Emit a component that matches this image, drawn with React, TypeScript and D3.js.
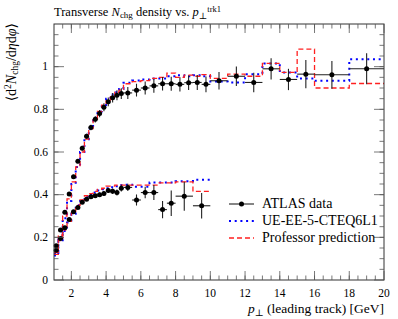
import React from 'react';
import * as d3 from 'd3';

// bin edges of the two distributions (pT > 100 MeV upper, pT > 500 MeV lower)
const upperEdges = [1, 1.25, 1.5, 1.75, 2, 2.25, 2.5, 2.75, 3, 3.25, 3.5, 3.75, 4, 4.25, 4.5, 4.75, 5,
  5.5, 6, 6.5, 7, 7.5, 8, 8.5, 9, 9.5, 10, 11, 12, 13, 14, 15, 16, 18, 20];
const upperData = [0.16, 0.234, 0.317, 0.403, 0.484, 0.557, 0.618, 0.674, 0.715, 0.753, 0.78, 0.81, 0.835, 0.854, 0.866, 0.874,
  0.877, 0.89, 0.9, 0.91, 0.92, 0.92, 0.917, 0.925, 0.926, 0.917, 0.934, 0.955, 0.926, 0.99, 0.94, 0.965, 0.962, 0.99];
const upperErr = [0.005, 0.006, 0.007, 0.008, 0.009, 0.01, 0.011, 0.012, 0.013, 0.015, 0.017, 0.019, 0.021, 0.022, 0.024, 0.025,
  0.028, 0.03, 0.031, 0.032, 0.032, 0.033, 0.033, 0.034, 0.035, 0.037, 0.041, 0.046, 0.046, 0.05, 0.05, 0.066, 0.065, 0.073];
const upperBlue = [0.125, 0.2, 0.29, 0.37, 0.45, 0.53, 0.6, 0.66, 0.71, 0.76, 0.79, 0.82, 0.85, 0.87, 0.88, 0.895,
  0.925, 0.935, 0.94, 0.945, 0.945, 0.955, 0.96, 0.955, 0.96, 0.955, 0.93, 0.926, 0.965, 1.015, 0.973, 0.945, 0.934, 1.035];
const upperRed = [0.13, 0.21, 0.3, 0.38, 0.46, 0.53, 0.6, 0.66, 0.71, 0.75, 0.79, 0.82, 0.84, 0.86, 0.88, 0.89,
  0.92, 0.93, 0.935, 0.945, 0.95, 0.97, 0.95, 0.96, 0.955, 0.963, 0.945, 0.965, 0.955, 1.015, 0.973, 1.082, 0.9, 0.921];

const lowerEdges = [1, 1.25, 1.5, 1.75, 2, 2.25, 2.5, 2.75, 3, 3.25, 3.5, 3.75, 4, 4.25, 4.5, 4.75, 5,
  5.5, 6, 6.5, 7, 7.5, 8, 9, 10];
const lowerData = [0.14, 0.195, 0.245, 0.284, 0.32, 0.34, 0.365, 0.378, 0.39, 0.395, 0.4, 0.405, 0.42, 0.416, 0.41, 0.43,
  0.434, 0.375, 0.41, 0.41, 0.33, 0.36, 0.393, 0.348];
const lowerErr = [0.004, 0.005, 0.005, 0.006, 0.006, 0.007, 0.007, 0.008, 0.008, 0.009, 0.01, 0.011, 0.012, 0.013, 0.014, 0.015,
  0.017, 0.026, 0.027, 0.035, 0.04, 0.06, 0.068, 0.06];
const lowerBlue = [0.115, 0.18, 0.23, 0.27, 0.31, 0.35, 0.37, 0.39, 0.4, 0.41, 0.42, 0.425, 0.43, 0.435, 0.44, 0.445,
  0.447, 0.437, 0.437, 0.457, 0.457, 0.457, 0.463, 0.47];
const lowerRed = [0.12, 0.185, 0.235, 0.275, 0.315, 0.35, 0.375, 0.395, 0.405, 0.415, 0.425, 0.43, 0.44, 0.44, 0.445, 0.445,
  0.445, 0.445, 0.445, 0.445, 0.455, 0.455, 0.46, 0.415];

const xTicks = [2, 4, 6, 8, 10, 12, 14, 16, 18, 20];
const yTicks = [0, 0.2, 0.4, 0.6, 0.8, 1];
const yTickLabels = ['0', '0.2', '0.4', '0.6', '0.8', '1'];

const left = 54, right = 384, top = 24, bottom = 280;
const font = '"Liberation Serif", "DejaVu Serif", serif';

const x = d3.scaleLinear().domain([1, 20]).range([left, right]);
const y = d3.scaleLinear().domain([0, 1.2]).range([bottom, top]);

const stepPath = (edges: number[], vals: number[]) => {
  const pts: [number, number][] = [];
  vals.forEach((v, i) => {
    pts.push([edges[i], v]);
    pts.push([edges[i + 1], v]);
  });
  return d3.line<[number, number]>().x(d => x(d[0])).y(d => y(d[1]))(pts) || '';
};

const DataPoints = ({ edges, vals, errs }: { edges: number[]; vals: number[]; errs: number[] }) => (
  <g>
    {vals.map((v, i) => {
      const cx = x((edges[i] + edges[i + 1]) / 2);
      return (
        <g key={i}>
          <line x1={x(edges[i])} x2={x(edges[i + 1])} y1={y(v)} y2={y(v)} stroke="#222" strokeWidth={1.1} />
          <line x1={cx} x2={cx} y1={y(v - errs[i])} y2={y(v + errs[i])} stroke="#222" strokeWidth={1.1} />
          <circle cx={cx} cy={y(v)} r={2.5} fill="black" />
        </g>
      );
    })}
  </g>
);

const blueStyle = { stroke: '#0000ff', strokeWidth: 2, strokeDasharray: '2 3.7', fill: 'none' };
const redStyle = { stroke: '#ff2020', strokeWidth: 1.3, strokeDasharray: '5 3', fill: 'none' };

export default function App() {
  const xMinor = d3.range(1.5, 20, 0.5);
  const yMinor = d3.range(0.05, 1.2, 0.05);
  return (
    <svg width={398} height={319} style={{ position: 'absolute', left: 0, top: 0 }} fontFamily={font}>
      <rect width={398} height={319} fill="white" />
      {/* title */}
      <text x={54} y={16} fontSize={12.5}>
        Transverse <tspan fontStyle="italic">N</tspan>
        <tspan fontSize={9} dy={2}>chg</tspan>
        <tspan dy={-2}> density vs. </tspan>
        <tspan fontStyle="italic">p</tspan>
        <tspan fontSize={9} dy={2.5}>⊥</tspan>
        <tspan fontSize={8.5} dy={-7}>trk1</tspan>
      </text>

      {/* MC lines */}
      <path d={stepPath(upperEdges, upperBlue)} style={blueStyle} />
      <path d={stepPath(lowerEdges, lowerBlue)} style={blueStyle} />
      <path d={stepPath(upperEdges, upperRed)} style={redStyle} />
      <path d={stepPath(lowerEdges, lowerRed)} style={redStyle} />

      <DataPoints edges={upperEdges} vals={upperData} errs={upperErr} />
      <DataPoints edges={lowerEdges} vals={lowerData} errs={lowerErr} />

      {/* frame and ticks */}
      <rect x={left} y={top} width={right - left} height={bottom - top} fill="none" stroke="#333" strokeWidth={1} />
      {xMinor.map(t => (
        <g key={'xm' + t} stroke="#555" strokeWidth={0.8}>
          <line x1={x(t)} x2={x(t)} y1={bottom} y2={bottom - 4.5} />
          <line x1={x(t)} x2={x(t)} y1={top} y2={top + 4.5} />
        </g>
      ))}
      {xTicks.map(t => (
        <g key={'x' + t}>
          <line x1={x(t)} x2={x(t)} y1={bottom} y2={bottom - 9} stroke="#555" strokeWidth={0.8} />
          <line x1={x(t)} x2={x(t)} y1={top} y2={top + 9} stroke="#555" strokeWidth={0.8} />
          <text x={x(t)} y={297} fontSize={11.5} textAnchor="middle">{t}</text>
        </g>
      ))}
      {yMinor.map(t => (
        <g key={'ym' + t} stroke="#555" strokeWidth={0.8}>
          <line x1={left} x2={left + 4.5} y1={y(t)} y2={y(t)} />
          <line x1={right} x2={right - 4.5} y1={y(t)} y2={y(t)} />
        </g>
      ))}
      {yTicks.map((t, i) => (
        <g key={'y' + t}>
          <line x1={left} x2={left + 10} y1={y(t)} y2={y(t)} stroke="#555" strokeWidth={0.8} />
          <line x1={right} x2={right - 10} y1={y(t)} y2={y(t)} stroke="#555" strokeWidth={0.8} />
          <text x={left - 6} y={y(t) + 3.5} fontSize={11.5} textAnchor="end">{yTickLabels[i]}</text>
        </g>
      ))}

      {/* axis labels */}
      <text x={right} y={313} fontSize={13.5} textAnchor="end">
        <tspan fontStyle="italic">p</tspan>
        <tspan fontSize={9.5} dy={2.5}>⊥</tspan>
        <tspan dy={-2.5}> (leading track) [GeV]</tspan>
      </text>
      <text transform={`translate(16,${top - 1}) rotate(-90)`} fontSize={14} textAnchor="end">
        ⟨d<tspan fontSize={9.5} dy={-5}>2</tspan>
        <tspan dy={5} fontStyle="italic">N</tspan>
        <tspan fontSize={9.5} dy={2}>chg</tspan>
        <tspan dy={-2}>/d</tspan>
        <tspan fontStyle="italic">η</tspan>d<tspan fontStyle="italic">φ</tspan>⟩
      </text>

      {/* legend */}
      <g>
        <line x1={229} x2={254} y1={204} y2={204} stroke="#222" strokeWidth={1.1} />
        <circle cx={241.5} cy={204} r={2.5} fill="black" />
        <text x={262} y={208} fontSize={14}>ATLAS data</text>
        <line x1={229} x2={254} y1={221} y2={221} style={blueStyle} />
        <text x={262} y={225} fontSize={14}>UE-EE-5-CTEQ6L1</text>
        <line x1={229} x2={254} y1={238} y2={238} style={redStyle} />
        <text x={262} y={242} fontSize={14}>Professor prediction</text>
      </g>
    </svg>
  );
}
